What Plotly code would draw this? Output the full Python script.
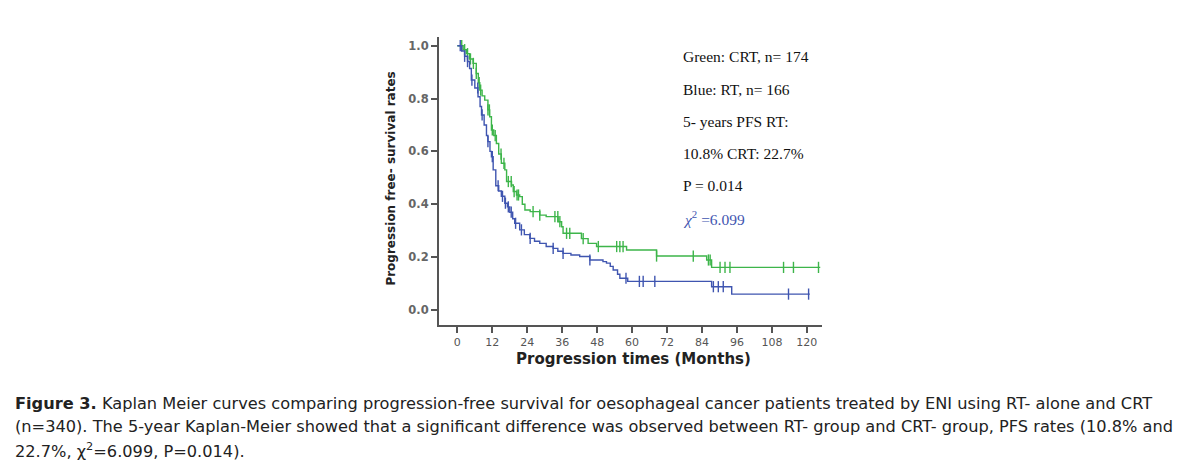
import numpy as np
import plotly.graph_objects as go

# ---- data ----
rt_times = [0, 1.5, 2.5, 3.5, 4.2, 4.8, 6.0, 7.1, 7.8, 8.3, 9.2, 10.0, 10.5, 11.2, 11.7, 12.3, 13.2,
            14.2, 15.1, 16.3, 17.2, 18.0, 19.0, 19.7, 21.4, 23.0, 24.9, 26.5, 28.3, 30.5, 32.9, 34.5,
            36.3, 39.0, 42.0, 45.5, 50.0, 51.2, 52.5, 53.5, 55.0, 55.8, 58.5, 87.3, 94.2, 121.0]
rt_surv = [1.0, 0.98, 0.96, 0.94, 0.914, 0.87, 0.84, 0.807, 0.77, 0.738, 0.70, 0.66, 0.637, 0.60, 0.58,
           0.53, 0.47, 0.45, 0.43, 0.404, 0.39, 0.37, 0.345, 0.328, 0.303, 0.285, 0.271, 0.26, 0.252,
           0.24, 0.233, 0.222, 0.214, 0.208, 0.202, 0.189, 0.183, 0.177, 0.165, 0.151, 0.135, 0.12,
           0.108, 0.088, 0.06, 0.06]
rt_censor = [1, 2.5, 3.5, 5, 7, 8.5, 10.5, 12, 14, 15.5, 16.5, 17.5, 18.5, 20, 22, 25, 32.9, 36.3,
             45.5, 57.9, 62.5, 63.8, 67.8, 87.9, 89.6, 91.3, 113.7, 120.6]

crt_times = [0, 2.0, 3.1, 4.2, 5.4, 6.5, 7.2, 7.7, 8.5, 9.4, 10.5, 11.1, 11.7, 12.5, 13.4, 14.2, 15.1,
             16.3, 16.9, 18.6, 19.2, 20.3, 21.4, 22.3, 23.2, 25.0, 28.3, 30.5, 34.6, 35.8, 36.3, 42.6,
             44.9, 47.8, 58.1, 68.4, 85.6, 87.3, 124.6]
crt_surv = [1.0, 0.985, 0.97, 0.95, 0.933, 0.895, 0.86, 0.832, 0.81, 0.794, 0.757, 0.731, 0.681, 0.66,
            0.63, 0.59, 0.555, 0.53, 0.486, 0.473, 0.448, 0.435, 0.429, 0.40, 0.378, 0.372, 0.359,
            0.353, 0.334, 0.315, 0.29, 0.27, 0.252, 0.24, 0.227, 0.204, 0.189, 0.161, 0.161]
crt_censor = [1.5, 2.5, 3.5, 4.5, 5.5, 6.5, 7.5, 8, 10.5, 11, 12, 13, 15, 16, 17.5, 18.5, 19.5, 20.5,
              21, 26, 28.3, 33.5, 34.5, 35.2, 37.5, 38.6, 43.2, 48.4, 54.7, 55.8, 56.9, 68.4, 81,
              86.2, 86.8, 90.2, 91.9, 93.6, 112, 115.4, 124]

x_ticks = [0, 12, 24, 36, 48, 60, 72, 84, 96, 108, 120]
y_ticks = [0.0, 0.2, 0.4, 0.6, 0.8, 1.0]

legend_lines = ["Green: CRT, n= 174", "Blue: RT, n= 166", "5- years PFS RT:",
                "10.8% CRT: 22.7%", "P = 0.014", "<i>χ</i><sup>2</sup> =6.099"]

caption_lines = [
    "<b>Figure 3.</b> Kaplan Meier curves comparing progression-free survival for oesophageal cancer patients treated by ENI using RT- alone and CRT",
    "(n=340). The 5-year Kaplan-Meier showed that a significant difference was observed between RT- group and CRT- group, PFS rates (10.8% and",
    "22.7%, χ<sup>2</sup>=6.099, P=0.014).",
]

GREEN = "#3DB54A"
BLUE = "#3F55B0"

# page body has an 8px offset in the browser
OFF = 8
PLOT_L, PLOT_R, PLOT_T, PLOT_B = 439.3 - OFF, 821.7 - OFF, 37 - OFF, 325 - OFF
PW, PH = PLOT_R - PLOT_L, PLOT_B - PLOT_T


def px_x(x):  # page pixel -> paper coord
    return (x - OFF - PLOT_L) / PW


def px_y(y):
    return 1 - (y - OFF - PLOT_T) / PH


def step_at(times, surv, t):
    idx = np.searchsorted(np.asarray(times), np.asarray(t), side="right") - 1
    return np.asarray(surv)[idx]


fig = go.Figure()
for times, surv, cens, col in [(crt_times, crt_surv, crt_censor, GREEN),
                               (rt_times, rt_surv, rt_censor, BLUE)]:
    fig.add_trace(go.Scatter(x=times, y=surv, mode="lines", line=dict(color=col, width=1.4, shape="hv"),
                             showlegend=False, hoverinfo="skip"))
    fig.add_trace(go.Scatter(x=cens, y=step_at(times, surv, cens), mode="markers",
                             marker=dict(symbol="line-ns", size=8, line=dict(color=col, width=1.4)),
                             showlegend=False, hoverinfo="skip"))

fig.update_xaxes(range=[-6.3, 125.2], tickvals=x_ticks, ticks="outside", ticklen=6, tickwidth=1.5,
                 tickcolor="#555555", showline=True, linecolor="#555555", linewidth=2,
                 showgrid=False, zeroline=False,
                 tickfont=dict(family="DejaVu Sans, sans-serif", size=11, color="#555555"))
fig.update_yaxes(range=[-0.057, 1.033], tickvals=y_ticks, tickformat=".1f", ticks="outside", ticklen=6,
                 tickwidth=1.5, tickcolor="#555555", showline=True, linecolor="#555555", linewidth=2,
                 showgrid=False, zeroline=False,
                 tickfont=dict(family="DejaVu Sans, sans-serif", size=11.5, color="#666666", weight="bold"))

annotations = []
annotations.append(dict(text="<b>Progression times (Months)</b>", xref="paper", yref="paper",
                        x=px_x(633), y=px_y(359), xanchor="center", yanchor="middle", showarrow=False,
                        font=dict(family="DejaVu Sans, Verdana, sans-serif", size=15, color="#222222")))
annotations.append(dict(text="<b>Progression free- survival rates</b>", xref="paper", yref="paper",
                        x=px_x(391), y=px_y(179), textangle=-90, xanchor="center", yanchor="middle",
                        showarrow=False,
                        font=dict(family="DejaVu Sans, Verdana, sans-serif", size=12, color="#222222")))

for i, line in enumerate(legend_lines):
    py = 56.7 + i * 32.3
    annotations.append(dict(text=line, xref="paper", yref="paper", x=px_x(681), y=px_y(py),
                            xanchor="left", yanchor="middle", showarrow=False,
                            font=dict(family="Liberation Serif, Times New Roman, serif", size=15.5,
                                      color=BLUE if i == 5 else "#111111")))

for i, line in enumerate(caption_lines):
    py = 403 + i * 23.5
    annotations.append(dict(text=line, xref="paper", yref="paper", x=px_x(14), y=px_y(py),
                            xanchor="left", yanchor="middle", showarrow=False,
                            font=dict(family="DejaVu Sans, sans-serif", size=16.2, color="#222222")))

fig.update_layout(width=1204, height=469,
                  margin=dict(l=PLOT_L, r=1204 - PLOT_R, t=PLOT_T, b=469 - PLOT_B, pad=0),
                  plot_bgcolor="white", paper_bgcolor="white", annotations=annotations)

fig.write_html("out.html")
